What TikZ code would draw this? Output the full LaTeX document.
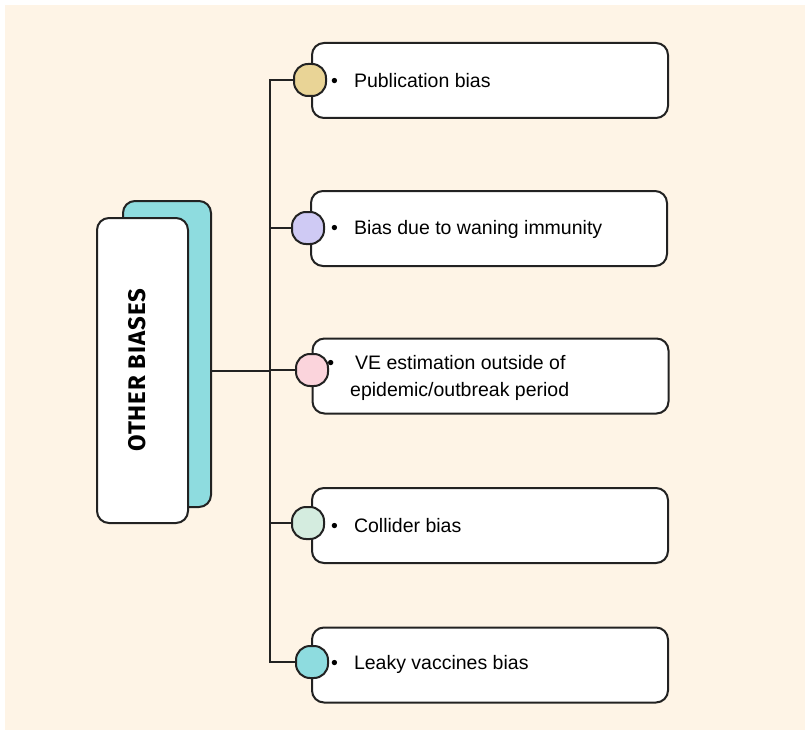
\documentclass[tikz,border=0pt]{standalone}
\usepackage{xcolor}
\usepackage{fontspec}
\setmainfont{Liberation Sans}
\newfontfamily\headfont{Fira Sans}[LetterSpace=4]
\usepackage{tikz}
\usetikzlibrary{positioning, calc}
\definecolor{cream}{HTML}{FEF4E6}
\definecolor{tealback}{HTML}{8EDCDF}
\definecolor{dotyellow}{HTML}{E9D496}
\definecolor{dotpurple}{HTML}{CFCAF4}
\definecolor{dotpink}{HTML}{FBD4DC}
\definecolor{dotmint}{HTML}{D4ECDF}
\definecolor{dotteal}{HTML}{8EDCDF}
\definecolor{inkline}{HTML}{222222}

\tikzset{
  itembox/.style={draw=inkline, line width=2pt, fill=white, rounded corners=12pt,
                  minimum width=356pt, minimum height=75pt},
  itemdot/.style={draw=inkline, line width=2pt, rounded corners=14pt,
                  minimum size=32pt, inner sep=0pt},
  itemtext/.style={anchor=west, inner sep=0pt, align=left,
                   font=\fontsize{19.5}{27}\selectfont},
  branch/.style={draw=inkline, line width=2pt}
}

\begin{document}
\begin{tikzpicture}[x=1pt, y=-1pt]
  \useasboundingbox (0,0) rectangle (806,733);
  \fill[cream] (5,5) rectangle (805,730);

  % title stack
  \node[draw=inkline, line width=2pt, fill=tealback, rounded corners=12pt,
        minimum width=88pt, minimum height=306pt] (biasback) at (167,354) {};
  \node[draw=inkline, line width=2pt, fill=white, rounded corners=12pt,
        minimum width=91pt, minimum height=305pt] (biasfront) at (142.5,370.5) {};
  \node[rotate=90, inner sep=0pt, font=\headfont\bfseries\fontsize{24}{28}\selectfont]
       (biastitle) at (137,370) {OTHER BIASES};

  % item boxes
  \node[itembox] (pubbox) at (490,80.5) {};
  \node[itembox] (waningbox) at (489,228.5) {};
  \node[itembox] (vebox) at (490.5,376) {};
  \node[itembox] (colliderbox) at (490,525.5) {};
  \node[itembox] (leakybox) at (490,665) {};

  \node[itemdot, fill=dotyellow] (pubdot) at (310,80) {};
  \node[itemdot, fill=dotpurple] (waningdot) at (308,228) {};
  \node[itemdot, fill=dotpink] (vedot) at (312,370) {};
  \node[itemdot, fill=dotmint] (colliderdot) at (308,523) {};
  \node[itemdot, fill=dotteal] (leakydot) at (312,662) {};

  \node[itemtext] (pubtext) at (331,81) {\textbullet\hspace{16pt}Publication bias};
  \node[itemtext] (waningtext) at (331,229) {\textbullet\hspace{16pt}Bias due to waning immunity};
  \node[itemtext] (vetext) at (350,378)
       {\leavevmode\llap{\textbullet\hspace{16pt}}\hspace{5pt}VE estimation outside of\\
        epidemic/outbreak period};
  \node[itemtext] (collidertext) at (331,526) {\textbullet\hspace{16pt}Collider bias};
  \node[itemtext] (leakytext) at (331,664) {\textbullet\hspace{16pt}Leaky vaccines bias};

  % connectors
  \coordinate (trunk) at (270,0);
  \draw[branch] (pubdot.west) -- (pubdot.west -| trunk)
    -- (leakydot.west -| trunk) -- (leakydot.west);
  \draw[branch] (waningdot.west) -- (waningdot.west -| trunk);
  \draw[branch] (vedot.west) -- (vedot.west -| trunk);
  \draw[branch] (colliderdot.west) -- (colliderdot.west -| trunk);
  \draw[branch] (biasfront.center -| biasback.east) -- (biasfront.center -| trunk);
\end{tikzpicture}
\end{document}
